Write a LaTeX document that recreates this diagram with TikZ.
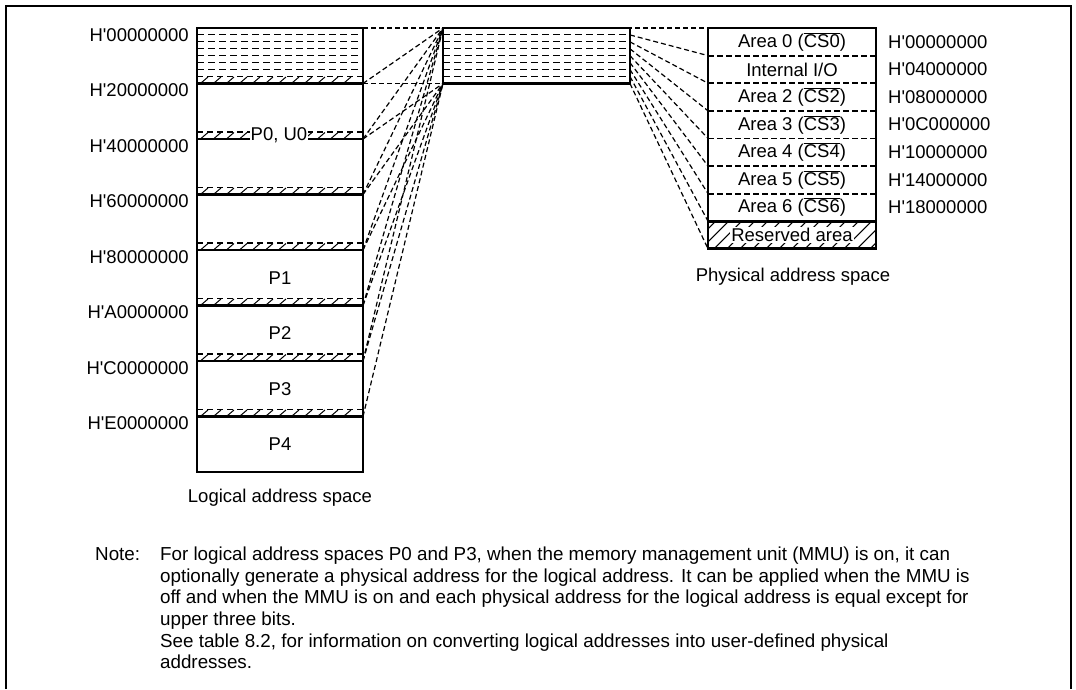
\documentclass[tikz,border=0pt]{standalone}
\usepackage{fontspec}
\setmainfont{Liberation Sans}
\usetikzlibrary{calc}
\newcommand{\diagfont}{\fontsize{18.5}{22}\selectfont}
\newcommand{\notefont}{\fontsize{18.8}{21.7}\selectfont}
\newcommand{\csbar}[1]{$\overline{\mbox{#1}}$}
\newcommand{\hx}[1]{H\textquotesingle#1}
\tikzset{
  block/.style={draw=black,line width=2.8pt},
  bound/.style={draw=black,line width=2.8pt},
  grid line/.style={draw=black,line width=1.1pt,dash pattern=on 7pt off 4pt},
  strip line/.style={draw=black,line width=1.8pt,dash pattern=on 6pt off 4pt},
  hatch/.style={draw=black,line width=1pt},
  divider/.style={draw=black,line width=1.8pt,dash pattern=on 6pt off 3pt},
  fan/.style={draw=black,line width=1.2pt,dash pattern=on 5pt off 3pt},
  addr/.style={font=\diagfont,inner sep=0pt},
  areatext/.style={font=\diagfont,inner sep=1pt},
  cutout/.style={areatext,fill=white},
  every node/.style={font=\diagfont}
}
\begin{document}
\begin{tikzpicture}[x=1pt,y=-1pt]
\useasboundingbox (0,0) rectangle (1076,689);
\draw[line width=2pt] (6,689) -- (6,6) -- (1071,6) -- (1071,689);

% logical address space
\foreach \j in {1,...,6}
  \draw[grid line] (197,28+6.94*\j) -- (363,28+6.94*\j);
\coordinate (L0) at (363,28);
\foreach \k in {1,...,7}{
  \pgfmathsetmacro{\yb}{28+55.5*\k}
  \draw[strip line] (197,\yb-6.94) -- (363,\yb-6.94);
  \foreach \x in {201,214,...,352}
    \draw[hatch] (\x,\yb-0.5) -- ++(7,-6);
  \draw[bound] (197,\yb) -- (363,\yb);
  \coordinate (L\k) at (363,\yb);
}
\draw[block] (197,28) rectangle (363,472);
\node[cutout] (p0u0) at (279,135) {P0, U0};
\node (p1) at (280,278) {P1};
\node (p2) at (280,333) {P2};
\node (p3) at (280,389) {P3};
\node (p4) at (280,444) {P4};
\foreach \k/\a in {0/00000000,1/20000000,2/40000000,3/60000000,4/80000000,5/A0000000,6/C0000000,7/E0000000}
  \node[addr,anchor=east] (la\k) at (189,35+55.5*\k) {\hx{\a}};
\node (logcap) at (280,498) {Logical address space};

% external 29-bit space
\foreach \j in {1,...,7}
  \draw[grid line] (443,28+6.94*\j) -- (630,28+6.94*\j);
\draw[block] (443,28) rectangle (630,83.5);
\coordinate (Mt) at (443,28);
\coordinate (Mb) at (443,83.5);
\foreach \k in {1,...,8}
  \coordinate (M\k) at (630,28+6.94*\k);

% physical address space
\coordinate (P0) at (708,28);
\foreach \k in {1,...,8}
  \coordinate (P\k) at (708,28+27.6*\k);
\foreach \j in {1,...,6}
  \draw[divider] (708,28+27.6*\j) -- (876,28+27.6*\j);
\draw[bound] (708,221.2) -- (876,221.2);
\begin{scope}
  \clip (708,221.2) rectangle (876,248.8);
  \foreach \x in {688,701,...,880}
    \draw[hatch] (\x,248.8) -- ++(27.6,-27.6);
\end{scope}
\draw[block] (708,28) rectangle (876,248.8);
\node[areatext] (a0) at (792,41.8) {Area 0 (\csbar{CS0})};
\node[areatext] (io) at (792,69.4) {Internal I/O};
\node[areatext] (a2) at (792,97) {Area 2 (\csbar{CS2})};
\node[areatext] (a3) at (792,124.6) {Area 3 (\csbar{CS3})};
\node[areatext] (a4) at (792,152.2) {Area 4 (\csbar{CS4})};
\node[areatext] (a5) at (792,179.8) {Area 5 (\csbar{CS5})};
\node[areatext] (a6) at (792,207.4) {Area 6 (\csbar{CS6})};
\node[cutout] (rsv) at (792,235) {Reserved area};
\foreach \j/\a in {0/00000000,1/04000000,2/08000000,3/0C000000,4/10000000,5/14000000,6/18000000}
  \node[addr,anchor=west] (pa\j) at (888,41.8+27.6*\j) {\hx{\a}};
\node (phycap) at (793,277) {Physical address space};

% mapping lines
\draw[fan] (L0) -- (P0);
\foreach \k in {1,...,6}
  \draw[fan] (L\k) -- (Mt);
\foreach \k in {1,...,7}
  \draw[fan] (L\k) -- (Mb);
\foreach \k in {1,...,8}
  \draw[fan] (M\k) -- (P\k);

\node[anchor=north west,inner sep=0pt,font=\notefont] (note) at (95,545) {%
\begin{tabular}{@{}l@{\hspace{20pt}}l@{}}
Note: & For logical address spaces P0 and P3, when the memory management unit (MMU) is on, it can\\
 & optionally generate a physical address for the logical address. It can be applied when the MMU is\\
 & off and when the MMU is on and each physical address for the logical address is equal except for\\
 & upper three bits.\\
 & See table 8.2, for information on converting logical addresses into user-defined physical\\
 & addresses.
\end{tabular}};
\end{tikzpicture}
\end{document}
